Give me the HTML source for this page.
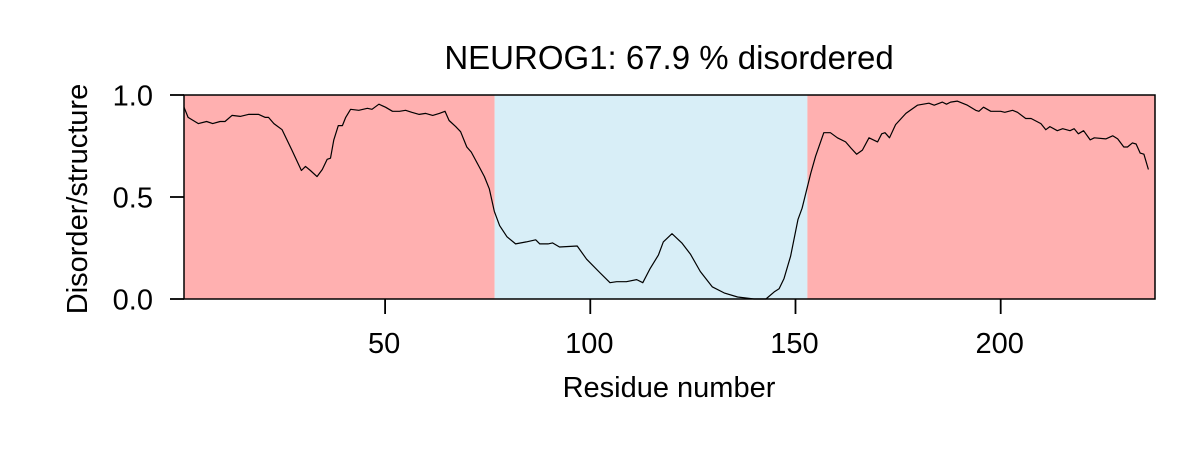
<!DOCTYPE html>
<html><head><meta charset="utf-8"><style>
html,body{margin:0;padding:0;background:#fff;}
svg{display:block;font-family:"Liberation Sans",Arial,sans-serif;}
</style></head><body>
<svg id="chart" width="1200" height="450" viewBox="0 0 1200 450"></svg>
<script>
const residues=[1,2,4.5,6.5,8,9.8,11,12.7,14.7,16.7,19.2,20.8,21.6,22.9,24.9,27.3,29.6,30.6,31.8,33.4,34.7,35.9,36.7,37.5,38.6,39.6,40.4,41.6,43.6,45.7,46.8,48.5,50.1,51.8,53.5,55,56.5,58.3,59.9,61.6,63.2,64.6,65.6,67.2,68.4,69.9,71,73,74.2,75.4,76.6,77.9,79.7,81.8,84.4,86.7,87.7,89.7,90.8,92.5,96.8,99.1,102.3,104.8,106.4,108.8,111.3,112.8,114.6,116.6,117.8,119.9,122.3,124.4,126.8,129.7,132.6,135.9,139.9,142.8,144.8,146,147.2,148.8,150.6,151.6,153.7,154.9,156.9,158.5,160.2,162.2,163.5,164.9,166.3,167.9,170,171,171.8,172.9,174.4,176.9,179.7,182.5,183.8,185.8,186.8,187.8,189.4,191.9,193.9,194.7,195.8,197.6,200,201,202.9,204.1,206.1,207.4,209.8,211,212,213.8,215.1,216.9,217.9,218.9,220.2,221.8,222.8,225.6,227.3,228.5,230,230.9,232.1,233,234,234.9,236];
const scores=[0.94,0.89,0.86,0.87,0.86,0.87,0.87,0.90,0.895,0.905,0.905,0.89,0.89,0.86,0.83,0.73,0.63,0.65,0.63,0.60,0.635,0.685,0.69,0.78,0.85,0.85,0.89,0.93,0.925,0.935,0.93,0.955,0.94,0.92,0.92,0.925,0.915,0.905,0.91,0.90,0.91,0.92,0.875,0.845,0.82,0.745,0.72,0.645,0.60,0.54,0.43,0.36,0.305,0.27,0.28,0.29,0.27,0.27,0.275,0.255,0.26,0.195,0.13,0.08,0.085,0.085,0.095,0.08,0.15,0.215,0.28,0.32,0.275,0.22,0.135,0.06,0.03,0.01,0.0,0.0,0.035,0.05,0.10,0.21,0.39,0.445,0.615,0.70,0.815,0.815,0.79,0.77,0.74,0.71,0.73,0.79,0.77,0.81,0.815,0.79,0.855,0.91,0.95,0.96,0.95,0.965,0.955,0.965,0.97,0.95,0.925,0.92,0.94,0.92,0.92,0.915,0.925,0.915,0.885,0.885,0.86,0.83,0.845,0.825,0.835,0.825,0.835,0.81,0.825,0.78,0.79,0.785,0.80,0.785,0.745,0.745,0.765,0.76,0.715,0.71,0.635];
const regionStarts=[1,76.7,152.9];
const regionEnds=[76.7,152.9,238];
const regionTypes=["disordered","structured","disordered"];
const xTicks=[50,100,150,200];
const yTicks=[0,0.5,1.0];
const yTickLabels=["0.0","0.5","1.0"];

const NS="http://www.w3.org/2000/svg";
const svg=document.getElementById('chart');
const L=184,R=1155,T=95,B=299;
const xMin=1,xMax=237.6;
const X=v=>L+(v-xMin)/(xMax-xMin)*(R-L);
const Y=v=>B-v*(B-T);
function mk(tag,attrs,parent){const e=document.createElementNS(NS,tag);for(const k in attrs)e.setAttribute(k,attrs[k]);(parent||svg).appendChild(e);return e;}

regionStarts.forEach((s,i)=>{
  const r=mk('rect',{x:X(s),y:T,width:Math.min(X(regionEnds[i]),R)-X(s),height:B-T,fill:regionTypes[i]==='disordered'?'#ffb0b0':'#d8eef7'});
  
  
});
const d=residues.map((r,i)=>(i?'L':'M')+X(r).toFixed(1)+' '+Y(scores[i]).toFixed(1)).join(' ');
const line=mk('path',{d:d,fill:'none',stroke:'#000','stroke-width':1.2,'stroke-linejoin':'round'});


const frame=mk('rect',{x:L,y:T,width:R-L,height:B-T,fill:'none',stroke:'#000','stroke-width':1.5});



xTicks.forEach(t=>{
  const tk=mk('line',{x1:X(t),x2:X(t),y1:B,y2:B+15,stroke:'#000','stroke-width':1.8});
  
  
  const lb=mk('text',{x:X(t)-1,y:353,'font-size':29,'text-anchor':'middle'});
  lb.textContent=t;
  
  
});
yTicks.forEach((t,i)=>{
  const tk=mk('line',{x1:L-14,x2:L,y1:Y(t),y2:Y(t),stroke:'#000','stroke-width':1.8});
  
  
  const lb=mk('text',{x:153,y:Y(t)+10.5,'font-size':29,'text-anchor':'end'});
  lb.textContent=yTickLabels[i];
  
  
});
</script>
<svg style="position:absolute;left:0;top:0" width="1200" height="450">
<text x="669" y="69" font-size="33" text-anchor="middle" font-family="Liberation Sans, Arial, sans-serif">NEUROG1: 67.9 % disordered</text>
<text x="669" y="397" font-size="29" text-anchor="middle" font-family="Liberation Sans, Arial, sans-serif">Residue number</text>
<text transform="translate(87,199) rotate(-90)" font-size="29" text-anchor="middle" font-family="Liberation Sans, Arial, sans-serif">Disorder/structure</text>
</svg>
</body></html>
